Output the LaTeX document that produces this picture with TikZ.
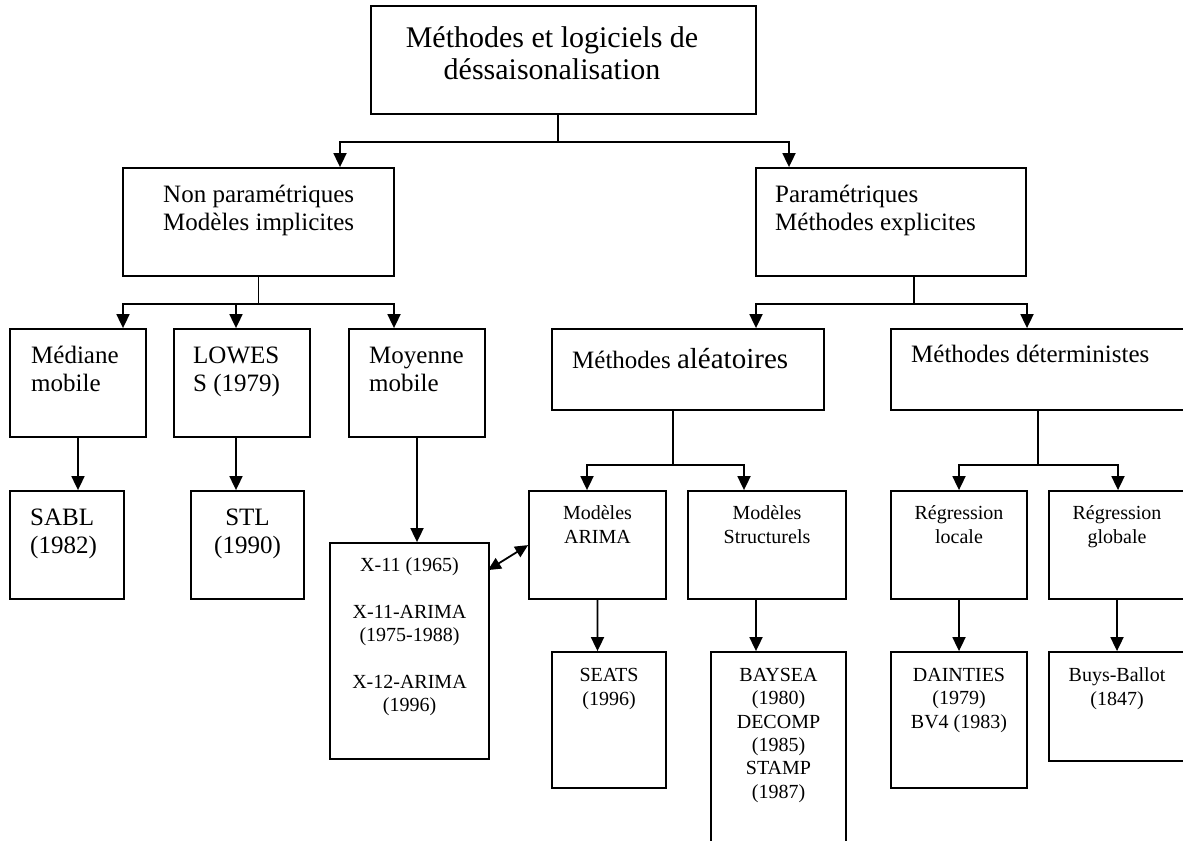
\documentclass[tikz,border=0pt]{standalone}
\usepackage{fontspec}
\setmainfont{Liberation Serif}
\usetikzlibrary{arrows.meta}
\tikzset{
 box/.style={draw, line width=1.8bp, inner sep=0pt},
 conn/.style={line width=1.8bp},
 arr/.style={conn, -{Triangle[length=14bp,width=13bp]}},
 darr/.style={conn, {Triangle[length=13bp,width=12bp]}-{Triangle[length=13bp,width=12bp]}},
 big/.style={font=\fontsize{30bp}{32bp}\selectfont},
 mid/.style={font=\fontsize{25bp}{28.5bp}\selectfont},
 sml/.style={font=\fontsize{20bp}{24bp}\selectfont},
 smt/.style={font=\fontsize{20bp}{23.4bp}\selectfont},
 txt/.style={inner sep=0pt, align=center, anchor=north},
 txtl/.style={inner sep=0pt, align=left, anchor=north west},
}
\newcommand{\fr}{\rule{0pt}{1em}}
\begin{document}
\begin{tikzpicture}[x=1bp,y=-1bp]
\useasboundingbox (0,0) rectangle (1183,841);
% boxes
\node[box, minimum width=385bp, minimum height=108bp] (top) at (563.5,60) {};
\node[box, minimum width=271bp, minimum height=108bp] (np) at (258.5,222) {};
\node[box, minimum width=270bp, minimum height=108bp] (p) at (891,222) {};
\node[box, minimum width=136bp, minimum height=108bp] (med) at (78,383) {};
\node[box, minimum width=136bp, minimum height=108bp] (low) at (242,383) {};
\node[box, minimum width=136bp, minimum height=108bp] (moy) at (417,383) {};
\node[box, minimum width=272bp, minimum height=81bp] (ale) at (688,369.5) {};
\node[box, minimum width=294bp, minimum height=81bp] (det) at (1038,369.5) {};
\node[box, minimum width=114bp, minimum height=108bp] (sabl) at (67,545) {};
\node[box, minimum width=113bp, minimum height=108bp] (stl) at (247.5,545) {};
\node[box, minimum width=159bp, minimum height=216bp] (x11) at (409.5,651) {};
\node[box, minimum width=137bp, minimum height=108bp] (arima) at (597.5,545) {};
\node[box, minimum width=158bp, minimum height=108bp] (struct) at (767,545) {};
\node[box, minimum width=136bp, minimum height=108bp] (rloc) at (959,545) {};
\node[box, minimum width=136bp, minimum height=108bp] (rglob) at (1117,545) {};
\node[box, minimum width=114bp, minimum height=136bp] (seats) at (609,720) {};
\node[box, minimum width=135bp, minimum height=196bp] (baysea) at (778.5,750) {};
\node[box, minimum width=136bp, minimum height=136bp] (daint) at (959,720) {};
\node[box, minimum width=136bp, minimum height=109bp] (buys) at (1117,706.5) {};
% texts
\node[txt,big] (ttop) at (552,17) {\fr Méthodes et logiciels de\\déssaisonalisation};
\node[txtl,mid] (tnp) at (163,177) {\fr Non paramétriques\\Modèles implicites};
\node[txtl,mid] (tp) at (775,177) {\fr Paramétriques\\Méthodes explicites};
\node[txtl,mid] (tmed) at (31,338) {\fr Médiane\\mobile};
\node[txtl,mid] (tlow) at (193,338) {\fr LOWES\\S (1979)};
\node[txtl,mid] (tmoy) at (369,338) {\fr Moyenne\\mobile};
\node[mid, inner sep=0pt, anchor=base west] (tale) at (572,368) {Méthodes {\fontsize{29bp}{33bp}\selectfont aléatoires}};
\node[mid, inner sep=0pt, anchor=base west] (tdet) at (911,362) {Méthodes déterministes};
\node[txtl,mid] (tsabl) at (30,500) {\fr SABL\\(1982)};
\node[txt,mid] (tstl) at (247.5,500) {\fr STL\\(1990)};
\node[txt,smt] (tx11) at (409.5,551) {\fr X-11 (1965)\\[23.4bp]X-11-ARIMA\\(1975-1988)\\[23.4bp]X-12-ARIMA\\(1996)};
\node[txt,sml] (tarima) at (597.5,499) {\fr Modèles\\ARIMA};
\node[txt,sml] (tstruct) at (767,499) {\fr Modèles\\Structurels};
\node[txt,sml] (trloc) at (959,499) {\fr Régression\\locale};
\node[txt,sml] (trglob) at (1117,499) {\fr Régression\\globale};
\node[txt,sml] (tseats) at (609,661) {\fr SEATS\\(1996)};
\node[txt,smt] (tbaysea) at (778.5,661) {\fr BAYSEA\\(1980)\\DECOMP\\(1985)\\STAMP\\(1987)};
\node[txt,smt] (tdaint) at (959,661) {\fr DAINTIES\\(1979)\\BV4 (1983)};
\node[txt,sml] (tbuys) at (1117,661) {\fr Buys-Ballot\\(1847)};
% connectors
\draw[conn] ([xshift=-5.5bp]top.south) -- ++(0,27) coordinate (b0);
\draw[arr] (b0) -| ([xshift=81.5bp]np.north);
\draw[arr] (b0) -| ([xshift=-102bp]p.north);
\draw[conn] (np.south) -- ++(0,27) coordinate (b1);
\draw[arr] (b1) -| ([xshift=45bp]med.north);
\draw[arr] (b1) -| ([xshift=-6bp]low.north);
\draw[arr] (b1) -| ([xshift=-23bp]moy.north);
\draw[conn] ([xshift=23bp]p.south) -- ++(0,27) coordinate (b2);
\draw[arr] (b2) -| ([xshift=68bp]ale.north);
\draw[arr] (b2) -| ([xshift=-11bp]det.north);
\draw[conn] ([xshift=-15bp]ale.south) -- ++(0,54) coordinate (b3);
\draw[arr] (b3) -| ([xshift=-10.5bp]arima.north);
\draw[arr] (b3) -| ([xshift=-23bp]struct.north);
\draw[conn] (det.south) -- ++(0,54) coordinate (b4);
\draw[arr] (b4) -| (rloc.north);
\draw[arr] (b4) -| ([xshift=1bp]rglob.north);
\draw[arr] (med.south) -- ([xshift=11bp]sabl.north);
\draw[arr] ([xshift=-6bp]low.south) -- ([xshift=-11.5bp]stl.north);
\draw[arr] (moy.south) -- ([xshift=7.5bp]x11.north);
\draw[arr] (arima.south) -- ([xshift=-11.5bp]seats.north);
\draw[arr] ([xshift=-11bp]struct.south) -- ([xshift=-22.5bp]baysea.north);
\draw[arr] (rloc.south) -- (daint.north);
\draw[arr] (rglob.south) -- (buys.north);
\draw[darr] ([xshift=-2bp,yshift=-28bp]x11.north east) -- ([yshift=-55bp]arima.north west);
\end{tikzpicture}
\end{document}
